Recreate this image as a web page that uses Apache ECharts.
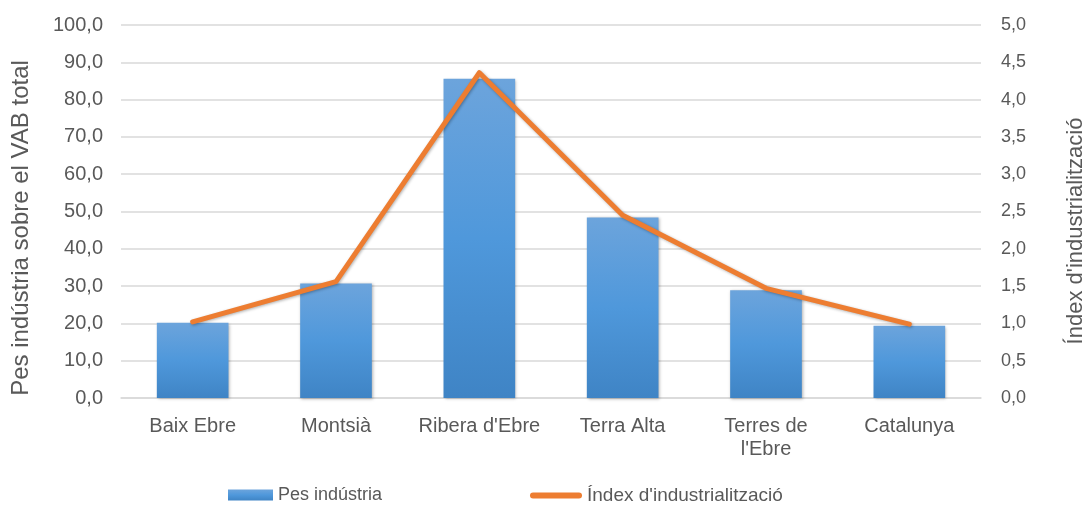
<!DOCTYPE html>
<html>
<head>
<meta charset="utf-8">
<script src="https://cdn.jsdelivr.net/npm/echarts@6/dist/echarts.min.js"></script>
<style>
html,body{margin:0;padding:0;background:#fff;}
#chart{width:1090px;height:505px;}
</style>
</head>
<body>
<div id="chart"></div>
<script>
const categories = ['Baix Ebre', 'Montsià', "Ribera d'Ebre", 'Terra Alta', "Terres de\nl'Ebre", 'Catalunya'];
const pesIndustria = [20.2, 30.7, 85.6, 48.4, 28.9, 19.4];
const indexIndustrialitzacio = [1.02, 1.56, 4.36, 2.45, 1.47, 0.99];
const leftAxisName = 'Pes indústria sobre el VAB total';
const rightAxisName = "Índex d'industrialització";
const seriesNames = ['Pes indústria', "Índex d'industrialització"];

const fmt = (d) => (v) => v.toFixed(d).replace('.', ',');
const labelColor = '#595959';
const font = 'Liberation Sans, Arial, sans-serif';

const chart = echarts.init(document.getElementById('chart'), null, {renderer: 'canvas'});
chart.setOption({
  animation: false,
  backgroundColor: '#ffffff',
  textStyle: {fontFamily: font},
  grid: {left: 121, right: 109, top: 25, bottom: 107, containLabel: false, outerBoundsMode: 'none'},
  legend: [
    {
      left: 223, top: 481, padding: 5, itemWidth: 45, itemHeight: 11,
      textStyle: {color: labelColor, fontSize: 18},
      data: [{name: seriesNames[0], icon: 'rect'}]
    },
    {
      left: 525, top: 481, padding: 5, itemWidth: 52, itemHeight: 6,
      textStyle: {color: labelColor, fontSize: 19},
      data: [{name: seriesNames[1], icon: 'path://M3,0 L49,0 A3,3 0 0 1 49,6 L3,6 A3,3 0 0 1 3,0 Z', itemStyle: {color: '#ED7D31'}}]
    }
  ],
  xAxis: {
    type: 'category', data: categories,
    axisLine: {lineStyle: {color: '#d9d9d9', width: 1.5}},
    axisTick: {show: false},
    axisLabel: {color: labelColor, fontSize: 20, margin: 17, lineHeight: 23, interval: 0}
  },
  yAxis: [
    {
      type: 'value', min: 0, max: 100, interval: 10,
      name: leftAxisName, nameLocation: 'middle', nameGap: 88, nameRotate: 90,
      nameTextStyle: {color: labelColor, fontSize: 24, padding: [0, 33, 0, 0]},
      axisLine: {show: false}, axisTick: {show: false},
      axisLabel: {color: labelColor, fontSize: 20, margin: 18, formatter: fmt(1)},
      splitLine: {lineStyle: {color: '#d9d9d9', width: 1.5}}
    },
    {
      type: 'value', min: 0, max: 5, interval: 0.5, position: 'right',
      name: rightAxisName, nameLocation: 'middle', nameGap: 84, nameRotate: 90,
      nameTextStyle: {color: labelColor, fontSize: 22, padding: [0, 39, 0, 0]},
      axisLine: {show: false}, axisTick: {show: false},
      axisLabel: {color: labelColor, fontSize: 18, margin: 20, formatter: fmt(1)},
      splitLine: {show: false}
    }
  ],
  series: [
    {
      name: seriesNames[0], type: 'bar', data: pesIndustria, yAxisIndex: 0, barWidth: '50%',
      itemStyle: {
        color: new echarts.graphic.LinearGradient(0, 0, 0, 1, [
          {offset: 0, color: '#6CA4DC'}, {offset: 0.5, color: '#4F98DB'}, {offset: 1, color: '#3F84C5'}
        ]),
        shadowBlur: 3, shadowColor: 'rgba(0,0,0,0.3)', shadowOffsetX: 1, shadowOffsetY: 1
      }
    },
    {
      name: seriesNames[1], type: 'line', data: indexIndustrialitzacio, yAxisIndex: 1,
      symbol: 'none', color: '#ED7D31',
      lineStyle: {color: '#ED7D31', width: 5, cap: 'round', join: 'round',
        shadowBlur: 3, shadowColor: 'rgba(0,0,0,0.3)', shadowOffsetX: 1, shadowOffsetY: 1}
    }
  ]
});
</script>
</body>
</html>
